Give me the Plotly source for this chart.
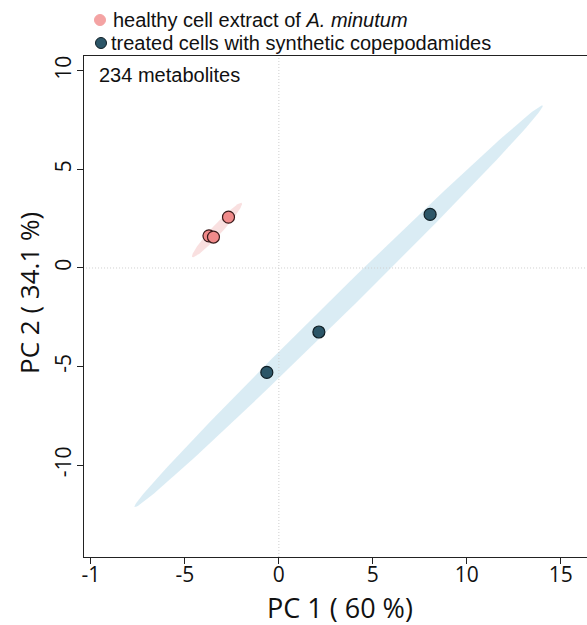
import numpy as np
import plotly.graph_objects as go

# ---- data ----
healthy_pc1 = [-3.72, -3.48, -2.68]
healthy_pc2 = [1.63, 1.57, 2.58]
treated_pc1 = [8.05, 2.13, -0.64]
treated_pc2 = [2.72, -3.25, -5.30]

group_names = ["healthy cell extract of <i>A. minutum</i>",
               "treated cells with synthetic copepodamides"]
legend_colors = ["#F4A3A3", "#2C5668"]
x_tick_vals = [-10, -5, 0, 5, 10, 15]
x_tick_text = ["-1", "-5", "0", "5", "10", "15"]
y_tick_vals = [10, 5, 0, -5, -10]
y_tick_text = ["10", "5", "0", "-5", "-10"]
annotation_text = "234 metabolites"
x_title = "PC 1 ( 60 %)"
y_title = "PC 2 ( 34.1 %)"

CHI2_95 = 5.991

W, H = 587, 625
ML, MR, MT, MB = 84, 0, 56, 68
PW, PH = W - ML - MR, H - MT - MB


def px(x):
    return (x - ML) / PW


def py(y):
    return (H - MB - y) / PH


def conf_ellipse(xs, ys, n=200):
    xs = np.asarray(xs, float)
    ys = np.asarray(ys, float)
    cov = np.cov(np.vstack([xs, ys]))
    vals, vecs = np.linalg.eigh(cov)
    vals = np.clip(vals, 1e-6, None)
    t = np.linspace(0, 2 * np.pi, n)
    circ = np.vstack([np.cos(t), np.sin(t)])
    pts = vecs @ (np.sqrt(vals * CHI2_95)[:, None] * circ)
    return pts[0] + xs.mean(), pts[1] + ys.mean()


fig = go.Figure()

ex, ey = conf_ellipse(healthy_pc1, healthy_pc2)
fig.add_trace(go.Scatter(x=ex, y=ey, mode="lines", fill="toself",
                         fillcolor="rgba(248,218,218,0.85)", line=dict(width=0),
                         showlegend=False, hoverinfo="skip"))
ex, ey = conf_ellipse(treated_pc1, treated_pc2)
fig.add_trace(go.Scatter(x=ex, y=ey, mode="lines", fill="toself",
                         fillcolor="rgba(216,235,243,0.95)", line=dict(width=0),
                         showlegend=False, hoverinfo="skip"))

# zero reference lines
fig.add_trace(go.Scatter(x=[0, 0], y=[-20, 20], mode="lines",
                         line=dict(color="#cfcfcf", width=1, dash="1px,2px"),
                         showlegend=False, hoverinfo="skip"))
fig.add_trace(go.Scatter(x=[-20, 30], y=[0, 0], mode="lines",
                         line=dict(color="#cfcfcf", width=1, dash="1px,2px"),
                         showlegend=False, hoverinfo="skip"))

fig.add_trace(go.Scatter(x=healthy_pc1, y=healthy_pc2, mode="markers",
                         marker=dict(size=12, color="#F08A8A",
                                     line=dict(color="#3a1a1a", width=1.2)),
                         showlegend=False))
fig.add_trace(go.Scatter(x=treated_pc1, y=treated_pc2, mode="markers",
                         marker=dict(size=12, color="#2C5668",
                                     line=dict(color="#0f1e25", width=1.2)),
                         showlegend=False))

# custom legend (keys as pixel-sized circles, labels as text)
legend_rows = [(100, 20, 111), (101, 43, 109)]
for (cx, cy, tx), name, col in zip(legend_rows, group_names, legend_colors):
    fig.add_shape(type="circle", xref="paper", yref="paper",
                  xsizemode="pixel", ysizemode="pixel",
                  xanchor=px(cx), yanchor=py(cy), x0=-5.5, x1=5.5, y0=-5.5, y1=5.5,
                  fillcolor=col,
                  line=dict(color="#0f1e25" if col == "#2C5668" else col, width=1))
    fig.add_annotation(text=name, xref="paper", yref="paper", x=px(tx), y=py(cy),
                       xanchor="left", yanchor="middle", showarrow=False,
                       font=dict(family="Liberation Sans, Arial", size=20, color="#111"))

fig.add_annotation(text=annotation_text, xref="paper", yref="paper",
                   x=px(97), y=py(75), xanchor="left", yanchor="middle", showarrow=False,
                   font=dict(family="Liberation Sans, Arial", size=20, color="#111"))

fig.add_annotation(text=y_title, xref="paper", yref="paper",
                   x=px(29), y=py(293), textangle=-90,
                   xanchor="center", yanchor="middle", showarrow=False,
                   font=dict(family="Open Sans", size=26, color="#111"))

fig.add_annotation(text=x_title, xref="paper", yref="paper",
                   x=px(340), y=py(607), xanchor="center", yanchor="middle",
                   showarrow=False,
                   font=dict(family="Open Sans", size=27, color="#111"))

axis_common = dict(showgrid=False, zeroline=False, showline=True, linecolor="#222",
                   linewidth=1, ticks="outside", ticklen=6, tickcolor="#222",
                   automargin=False,
                   tickfont=dict(family="Open Sans", size=21, color="#111"))

fig.update_layout(
    width=W, height=H,
    margin=dict(l=ML, r=MR, t=MT, b=MB, autoexpand=False),
    plot_bgcolor="white", paper_bgcolor="white",
    xaxis=dict(range=[-10.37, 16.4], tickmode="array", tickvals=x_tick_vals,
               ticktext=x_tick_text, mirror=True, ticklabelstandoff=-7,
               **axis_common),
    yaxis=dict(range=[-14.67, 10.76], tickmode="array", tickvals=y_tick_vals,
               ticktext=y_tick_text, tickangle=-90, ticklabelstandoff=-2,
               **axis_common),
    showlegend=False,
)

fig.write_html("out.html")
